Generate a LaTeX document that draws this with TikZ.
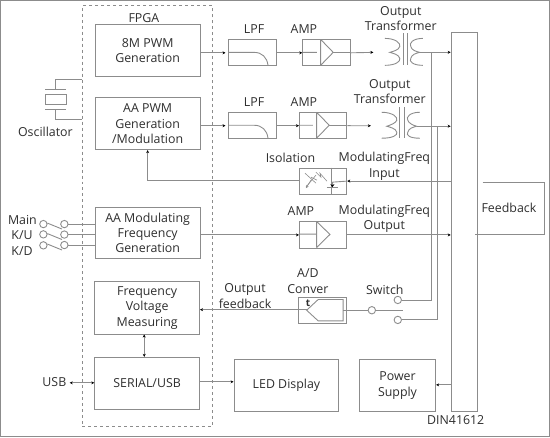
\documentclass[tikz,border=0pt]{standalone}
\usepackage{fontspec}
\setmainfont{Open Sans}
\usetikzlibrary{arrows.meta,calc}
\definecolor{ln}{HTML}{8C8C8C}
\definecolor{tx}{HTML}{2E2E2E}
\tikzset{
  x=1pt,y=-1pt,
  every path/.style={draw=ln,line width=0.9pt},
  lbl/.style={draw=none,inner sep=0pt,text=tx,align=center,font=\fontsize{12.4}{15.4}\selectfont},
  blk/.style={rectangle,draw=ln,line width=0.9pt,inner sep=0pt,text=tx,align=center,font=\fontsize{12.4}{15.4}\selectfont},
  pin/.style={circle,draw=ln,line width=0.9pt,inner sep=0pt,minimum size=7.4pt},
  arr/.style={-{Stealth[length=3pt,width=3pt,color=black]}},
  darr/.style={{Stealth[length=3pt,width=3pt,color=black]}-{Stealth[length=3pt,width=3pt,color=black]}},
}
\newcommand{\bx}[6]{\node[blk,minimum width=#3 pt-#2 pt,minimum height=#5 pt-#4 pt,anchor=north west] (#1) at (#2,#4) {#6};}
\begin{document}
\begin{tikzpicture}
\useasboundingbox (0,0) rectangle (550,437);
% FPGA frame
\node[draw=ln,line width=0.7pt,dashed,rectangle,inner sep=0pt,minimum width=130.5pt,minimum height=421pt,anchor=north west] (fpga) at (81.5,5) {};
\node[lbl] (fpgal) at (143.7,18) {FPGA};
% main blocks
\bx{pwm}{94.5}{199.5}{24}{76}{8M PWM\\Generation}
\bx{aap}{94.5}{199.5}{97}{149}{AA PWM\\Generation\\/Modulation}
\bx{aam}{94.5}{199.5}{206.5}{258}{AA Modulating\\Frequency\\Generation}
\bx{frq}{94}{199}{281.3}{333.7}{Frequency\\Voltage\\Measuring}
\bx{ser}{94}{199}{357}{409.5}{SERIAL/USB}
\bx{led}{233.5}{338.5}{359}{411.5}{LED Display}
\bx{pow}{359}{435.5}{359}{411.5}{Power\\Supply}
\bx{bus}{451}{477}{32}{411}{}
\node[lbl] (din) at (456,420) {DIN41612};
% Feedback
\node[lbl] (fbl) at (509.3,207.3) {Feedback};
\coordinate (fa) at (483,182);
\coordinate (fb) at (475,234);
\draw (fa) -- (545,182) -- (545,234) -- (fb);
% LPFs
\bx{lpfa}{228}{275.5}{39}{65}{}
\bx{lpfb}{228}{275.5}{112}{138}{}
\draw (228,52) -- (254,52) .. controls (262,52) and (267,57) .. (268,65);
\draw (228,125) -- (254,125) .. controls (262,125) and (267,130) .. (268,138);
\node[lbl] (lpfal) at (254,29) {LPF};
\node[lbl] (lpfbl) at (254,102) {LPF};
% AMPs
\bx{ampa}{302.3}{350}{39}{65}{}
\bx{ampb}{299}{346.5}{112}{138}{}
\bx{ampc}{299}{346.5}{221.3}{247.5}{}
\draw (320.7,39) -- (320.7,65) (320.7,39) -- (333.3,52) -- (320.7,65) (302.3,52) -- (317,52);
\draw (316.7,112) -- (316.7,138) (316.7,112) -- (329.3,125) -- (316.7,138) (299,125) -- (313,125);
\draw (316.7,221.3) -- (316.7,247.5) (316.7,221.3) -- (330,234.4) -- (316.7,247.5) (299,234) -- (316.7,234);
\draw (333.3,52) -- (350,52) (329.3,125) -- (346.5,125);
\node[lbl] (ampal) at (304,29) {AMP};
\node[lbl] (ampbl) at (304,102) {AMP};
\node[lbl] (ampcl) at (301,211) {AMP};
% Transformers
\coordinate (tra) at (373.5,52);
\coordinate (trb) at (371,125.5);
\coordinate (traout) at (420,52);
\coordinate (trbout) at (417,126);
\draw (385,38) .. controls (396,38) and (401,43) .. (400,46) .. controls (399,50) and (393,51) .. (390,52) .. controls (393,53) and (399,54) .. (400,58) .. controls (401,61) and (396,65) .. (385,65);
\draw (423,38) .. controls (413,38) and (409,43) .. (411,46) .. controls (412,50) and (416,51) .. (420,52) .. controls (416,53) and (412,54) .. (411,58) .. controls (409,61) and (413,65) .. (423,65);
\draw (403.3,33) -- (403.3,65) (407.7,33) -- (407.7,65);
\draw (381.7,112) .. controls (393,112) and (398,117) .. (397,120) .. controls (396,123) and (390,125) .. (387,126) .. controls (390,127) and (396,128) .. (397,132) .. controls (398,135) and (393,138) .. (381.7,138);
\draw (420,112) .. controls (410,112) and (406,117) .. (408,120) .. controls (409,123) and (413,125) .. (417,126) .. controls (413,127) and (409,128) .. (408,132) .. controls (406,135) and (410,138) .. (420,138);
\draw (400,107) -- (400,138) (404.3,107) -- (404.3,138);
\node[lbl] (tral) at (401,18) {Output\\Transformer};
\node[lbl] (trbl) at (390,91) {Output\\Transformer};
% Isolation
\bx{iso}{299}{346.5}{167.5}{193.5}{}
\draw (331.7,167.5) -- (331.7,193.5);
\draw (327,187) -- (338,187);
\draw[-{Stealth[length=3pt,width=4pt,color=black]}] (332.5,182) -- (332.5,187);
\draw[line width=0.6pt] (305,173) -- (316,183) (316,175) -- (306,187);
\draw[line width=0.6pt] (316,172) -- (321,177) -- (320,173) -- (327,181);
\draw[line width=0.6pt] (311,177) -- (317,180);
\draw[line width=0.6pt,-{Stealth[length=3pt,width=3pt,color=ln]}] (311,180) -- (306,188);
\node[lbl] (isol) at (290.5,158) {Isolation};
\node[lbl] (mfi) at (384.5,166) {ModulatingFreq\\Input};
\node[lbl] (mfo) at (384.5,219) {ModulatingFreq\\Output};
\coordinate (isoin) at (332.5,182);
% A/D
\bx{adc}{298.3}{345.7}{297.3}{323.3}{}
\draw (306.7,310.3) -- (318.3,299.5) -- (343.3,299.5) -- (343.3,321) -- (318.3,321) -- cycle;
\node[lbl,font=\fontsize{10}{12}\selectfont\bfseries] (adct) at (308,303.5) {t};
\node[lbl] (adl) at (308,281) {A/D\\Conver};
\node[lbl] (ofl) at (245,296) {Output\\feedback};
% switch
\node[pin] (swc) at (372,310.3) {};
\node[pin] (swa) at (398,300) {};
\node[pin] (swb) at (398,320) {};
\coordinate (blade) at (403,310.3);
\node[lbl] (swl) at (385,290) {Switch};
\draw (343.3,310.3) -- (swc);
\draw (swc) -- (blade);
% connectors
\draw[arr] (pwm.east |- lpfa.west) -- ++(25,0);
\draw[arr] (aap.east |- lpfb.west) -- ++(25,0);
\draw[arr] (lpfa.east) -- (ampa.west);
\draw[arr] (lpfb.east) -- (ampb.west);
\draw[arr] (ampa.east) -- (tra);
\draw[arr] (ampb.east) -- (trb);
\draw[arr] (traout) -- (traout -| bus.west);
\draw[arr] (trbout) -- (trbout -| bus.west);
\draw[arr] (aam.east |- ampc.west) -- (ampc.west);
\draw[arr] (ampc.east) -- (ampc.east -| bus.west);
\draw[arr] (bus.west |- iso.east) -- (iso.east);
\draw (iso.east) -- (isoin);
\draw[arr] (iso.west |- 0,180) -| (aap.south);
\draw[arr] (adc.west |- 0,309.7) -- (frq.east |- 0,309.7);
\draw (306.7,309.7) -- (adc.west |- 0,309.7);
\draw[darr] (frq.south -| 144,0) -- (ser.north -| 144,0);
\draw[arr] (ser.east |- 0,382) -- (led.west |- 0,382);
\draw[arr] (bus.west |- 0,385) -- (pow.east |- 0,385);
\node[lbl] (usb) at (54,382) {USB};
\draw[darr] (usb.east |- 0,383) ++(3,0) -- (ser.west |- 0,383);
\draw (swa) -- (431.7,300) -- (431.7,52);
\draw (swb) -- (437.3,320) -- (437.3,126);
% oscillator
\draw (45,88.7) -- (66,88.7) (45,109) -- (66,109);
\node[rectangle,draw=ln,line width=0.9pt,inner sep=0pt,minimum width=21pt,minimum height=10.6pt] (osc) at (55.5,99) {};
\draw (55.3,88.7) -- (55.3,79.3) -- (fpga.west |- 0,79.3);
\draw (55.3,109) -- (55.3,119.3) -- (fpga.west |- 0,119.3);
\node[lbl] (oscl) at (45,131.7) {Oscillator};
% keys
\node[lbl] (kma) at (22,220) {Main};
\node[lbl] (kku) at (21.6,235) {K/U};
\node[lbl] (kkd) at (21.6,250.6) {K/D};
\node[pin] (la) at (43,224) {};
\node[pin] (lb) at (43,234.3) {};
\node[pin] (lc) at (43,245.3) {};
\node[pin] (ra) at (64,224) {};
\node[pin] (rb) at (64,234.5) {};
\node[pin] (rc) at (64,245) {};
\draw (47,223) -- (61.7,229);
\draw (47,233.5) -- (61.7,239.5);
\draw (47,244) -- (61.7,250);
\draw (ra) -- (ra -| aam.west);
\draw (rb) -- (rb -| aam.west);
\draw (rc) -- (rc -| aam.west);
\end{tikzpicture}
\end{document}
